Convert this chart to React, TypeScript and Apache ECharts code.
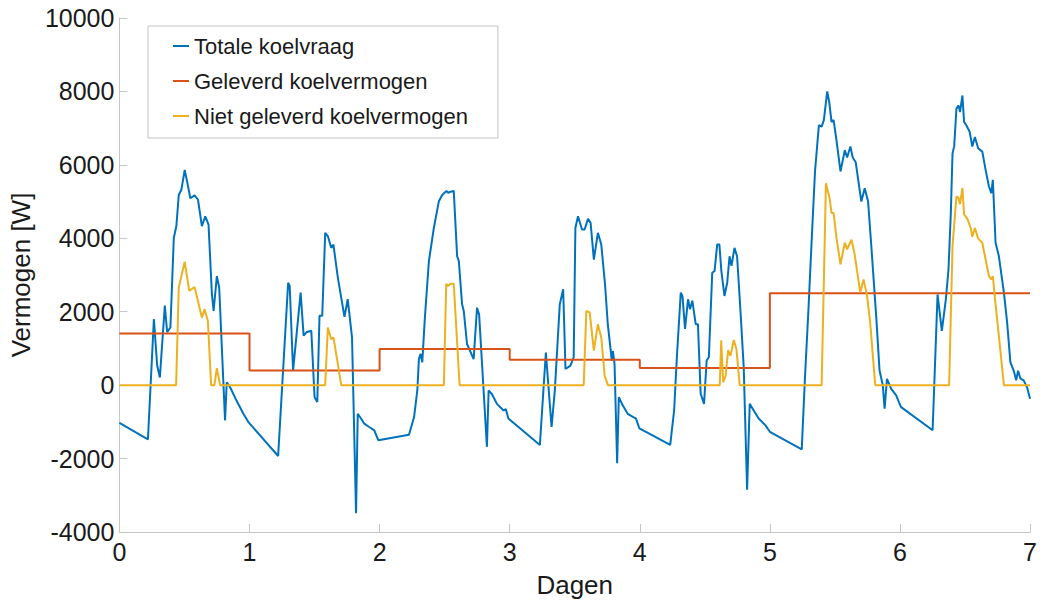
import React, { useEffect, useRef } from "react";
import * as echarts from "echarts";

const seriesNames = ["Totale koelvraag", "Geleverd koelvermogen", "Niet geleverd koelvermogen"];
const seriesColors = ["#0072BD", "#D95319", "#EDB120"];

const demandX = [
  0.0, 0.219, 0.265, 0.29, 0.311, 0.349, 0.367, 0.392, 0.418, 0.438, 0.456, 0.476, 0.502, 0.52, 0.545, 0.578, 0.604,
  0.634, 0.66, 0.685, 0.711, 0.724, 0.749, 0.767, 0.812, 0.825, 0.85, 0.9, 0.953, 0.99,
  1.22, 1.297, 1.309, 1.335, 1.393, 1.416, 1.437, 1.475, 1.5, 1.521, 1.538, 1.559, 1.582, 1.602, 1.628, 1.645,
  1.679, 1.73, 1.755, 1.788, 1.819, 1.832, 1.857, 1.882, 1.92, 1.959, 1.99,
  2.226, 2.265, 2.29, 2.302, 2.315, 2.328, 2.348, 2.379, 2.417, 2.455, 2.481, 2.514, 2.527, 2.545, 2.57, 2.596,
  2.609, 2.634, 2.647, 2.672, 2.723, 2.749, 2.765, 2.825, 2.838, 2.863, 2.902, 2.953, 2.97, 2.99,
  3.232, 3.278, 3.322, 3.347, 3.385, 3.411, 3.429, 3.467, 3.492, 3.505, 3.525, 3.556, 3.576, 3.602, 3.622, 3.647,
  3.678, 3.704, 3.734, 3.754, 3.785, 3.793, 3.806, 3.826, 3.839, 3.869, 3.907, 3.971, 3.997,
  4.234, 4.264, 4.285, 4.315, 4.328, 4.348, 4.371, 4.386, 4.404, 4.43, 4.447, 4.468, 4.494, 4.514, 4.531, 4.557,
  4.575, 4.595, 4.612, 4.627, 4.651, 4.672, 4.69, 4.705, 4.728, 4.748, 4.774, 4.799, 4.825, 4.845, 4.876, 4.914,
  4.965, 5.0,
  5.245, 5.27, 5.296, 5.321, 5.347, 5.364, 5.377, 5.398, 5.415, 5.441, 5.456, 5.474, 5.49, 5.512, 5.543, 5.576,
  5.594, 5.619, 5.637, 5.66, 5.703, 5.729, 5.755, 5.779, 5.818, 5.843, 5.868, 5.882, 5.9, 5.933, 5.971, 5.996, 6.009,
  6.251, 6.289, 6.322, 6.353, 6.373, 6.391, 6.404, 6.417, 6.434, 6.45, 6.462, 6.48, 6.493, 6.51, 6.536, 6.556,
  6.576, 6.601, 6.633, 6.658, 6.684, 6.702, 6.714, 6.735, 6.76, 6.799, 6.824, 6.849, 6.875, 6.893, 6.908, 6.926,
  6.951, 6.977, 7.0,
];
const demandY = [
  -1030, -1480, 1800, 540, 210, 2170, 1440, 1570, 4010, 4340, 5180, 5320, 5860, 5550, 5090, 5170, 5050,
  4330, 4600, 4370, 2470, 2020, 2970, 2660, -960, 80, -50, -420, -780, -1000,
  -1930, 2790, 2700, 400, 2520, 1350, 1440, 1480, -325, -460, 1890, 1890, 4150, 4060, 3740, 3830,
  2930, 1860, 2340, 1300, -3490, -780, -910, -1050, -1140, -1230, -1500,
  -1350, -870, -145, 710, 850, 620, 1840, 3380, 4280, 5000, 5180, 5290, 5240, 5270, 5290, 3510,
  3380, 2200, 2020, 1120, 710, 2110, 1930, -1680, -145, -240, -510, -690, -650, -910,
  -1630, 890, -1140, -145, 2200, 2610, 440, 530, 760, 4280, 4600, 4240, 4240, 4530, 4420, 3420,
  4150, 3830, 2700, 1660, 670, 930, 580, -2130, -325, -550, -780, -910, -1180,
  -1630, -690, 760, 2520, 2430, 1530, 2340, 2070, 2300, 1660, 1660, -235, -510, 670, 760, 3060,
  3110, 3830, 3830, 3110, 2430, 2790, 3510, 3250, 3740, 3510, 2020, 490, -2850, -510, -690, -910,
  -1090, -1270,
  -1750, 220, 2020, 3920, 5820, 6540, 7080, 7040, 7220, 8000, 7720, 7170, 7220, 6670, 5820, 6400,
  6200, 6500, 6200, 6070, 5000, 5360, 5000, 3830, 1840, 400, 0, -640, 170, -100, -280, -500, -600,
  -1230, 2470, 1480, 2340, 3150, 4690, 6310, 6510, 7530, 7620, 7440, 7890, 7170, 7080, 6900, 6500,
  6760, 6450, 6360, 5870, 5410, 5230, 5590, 3880, 3520, 2520, 1700, 620, 390, 130, 390, 180,
  130, -60, -370,
];

const suppliedDays = [0, 1, 2, 3, 4, 5, 6];
const suppliedLevel = [1410, 400, 985, 690, 465, 2500, 2500];

const unmetX = [
  0, 0.436, 0.456, 0.502, 0.537, 0.578, 0.634, 0.655, 0.68, 0.705, 0.73, 0.749, 0.774,
  1.582, 1.602, 1.628, 1.645, 1.679, 1.705,
  2.494, 2.512, 2.527, 2.545, 2.57, 2.615,
  3.569, 3.589, 3.615, 3.647, 3.678, 3.704, 3.73, 3.755,
  4.615, 4.626, 4.641, 4.66, 4.679, 4.697, 4.723, 4.743, 4.768,
  5.398, 5.431, 5.459, 5.474, 5.49, 5.512, 5.543, 5.576, 5.594, 5.627, 5.65, 5.695, 5.72, 5.745, 5.77, 5.81,
  6.378, 6.404, 6.434, 6.45, 6.462, 6.48, 6.493, 6.518, 6.544, 6.556, 6.576, 6.601, 6.633, 6.658, 6.684, 6.702,
  6.714, 6.735, 6.76, 6.799, 7.0,
];
const unmetY = [
  0, 0, 2660, 3360, 2570, 2670, 1840, 2070, 1750, 0, 0, 460, 0,
  0, 1570, 1250, 1300, 580, 0,
  0, 2760, 2700, 2760, 2760, 0,
  0, 2020, 1980, 940, 1660, 1300, 260, 0,
  0, 1220, 80, 260, 950, 800, 1230, 980, 0,
  0, 5500, 5090, 4690, 4690, 4010, 3290, 3880, 3700, 3960, 3600, 2520, 2880, 2480, 1750, 0,
  0, 3790, 5140, 5100, 4930, 5370, 4650, 4530, 4280, 4040, 4280, 3990, 3880, 3430, 2970, 2880,
  2970, 2200, 1350, 0, 0,
];

const xMin = 0;
const xMax = 7;
const yMin = -4000;
const yMax = 10000;
const yStep = 2000;

const FONT = "'Liberation Sans', Arial, Helvetica, sans-serif";

export default function App() {
  const ref = useRef<HTMLDivElement>(null);

  useEffect(() => {
    document.body.style.margin = "0";
    if (!ref.current) return;
    const chart = echarts.init(ref.current, undefined, { renderer: "svg" });

    const demand = demandX.map((x, i) => [x, demandY[i]]);
    const supplied: number[][] = [];
    suppliedDays.forEach((d, i) => {
      supplied.push([d, suppliedLevel[i]]);
      supplied.push([d + 1, suppliedLevel[i]]);
    });
    const unmet = unmetX.map((x, i) => [x, unmetY[i]]);

    const lineSeries = (name: string, data: number[][], color: string) => ({
      name,
      type: "line",
      data,
      showSymbol: false,
      symbol: "none",
      lineStyle: { color, width: 2 },
      itemStyle: { color },
      clip: true,
    });

    chart.setOption({
      animation: false,
      backgroundColor: "#ffffff",
      textStyle: { fontFamily: FONT },
      grid: { left: 117, right: 7, top: 18, bottom: 68, containLabel: false },
      legend: {
        orient: "vertical",
        left: 148,
        top: 26,
        padding: [7, 30, 9, 25],
        itemGap: 9,
        itemWidth: 16,
        itemHeight: 2,
        icon: "rect",
        borderColor: "#c4c4c4",
        borderWidth: 1,
        backgroundColor: "#ffffff",
        textStyle: { fontSize: 22, color: "#1a1a1a", fontFamily: FONT, lineHeight: 26 },
        data: seriesNames,
      },
      xAxis: {
        type: "value",
        min: xMin,
        max: xMax,
        interval: 1,
        name: "Dagen",
        nameLocation: "middle",
        nameGap: 40,
        nameTextStyle: { fontSize: 26, color: "#1a1a1a", fontFamily: FONT },
        axisLine: { show: true, onZero: false, lineStyle: { color: "#c6c6c6", width: 1 } },
        axisTick: { show: true, inside: true, length: 8, lineStyle: { color: "#c6c6c6" } },
        axisLabel: { fontSize: 25, color: "#1a1a1a", margin: 7, fontFamily: FONT },
        splitLine: { show: false },
      },
      yAxis: {
        type: "value",
        min: yMin,
        max: yMax,
        interval: yStep,
        name: "Vermogen [W]",
        nameLocation: "middle",
        nameGap: 70,
        nameTextStyle: { fontSize: 26, color: "#1a1a1a", fontFamily: FONT },
        axisLine: { show: true, onZero: false, lineStyle: { color: "#c6c6c6", width: 1 } },
        axisTick: { show: true, inside: true, length: 8, lineStyle: { color: "#c6c6c6" } },
        axisLabel: {
          fontSize: 25,
          color: "#1a1a1a",
          margin: 5,
          fontFamily: FONT,
          formatter: (v: number) => String(v),
        },
        splitLine: { show: false },
      },
      series: [
        lineSeries(seriesNames[0], demand, seriesColors[0]),
        lineSeries(seriesNames[1], supplied, seriesColors[1]),
        lineSeries(seriesNames[2], unmet, seriesColors[2]),
      ],
    });

    return () => {
      chart.dispose();
    };
  }, []);

  return (
    <div
      ref={ref}
      style={{ position: "absolute", left: 0, top: 0, width: 1040, height: 603, background: "#fff" }}
    />
  );
}
